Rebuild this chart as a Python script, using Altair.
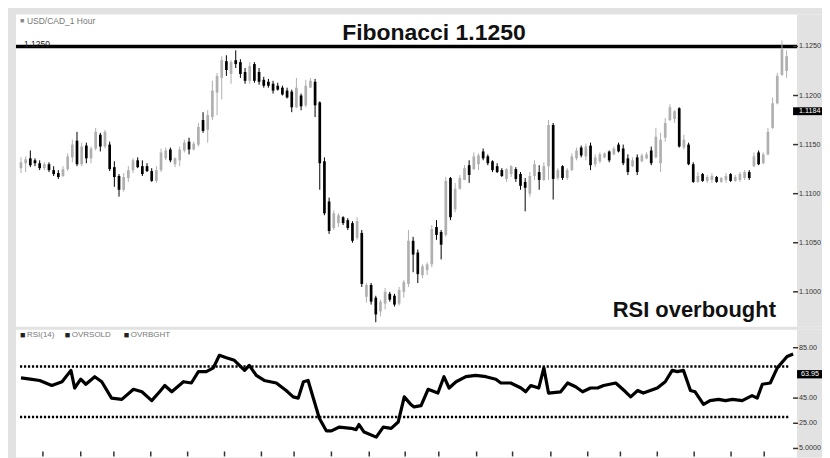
import altair as alt
import pandas as pd

# ---------------- data (prices in pips above 1.1000) ----------------
open_pips = [126,131,136,134,131,126,130,124,121,118,
             125,137,154,130,149,136,146,160,148,150,
             127,118,104,116,124,134,128,128,123,113,
             124,136,145,130,134,144,153,145,150,175,
             165,178,203,218,235,222,236,234,224,215,
             232,224,216,214,212,210,208,205,204,188,
             200,190,208,214,193,133,92,65,70,76,
             73,70,55,60,-5,7,-6,-20,-12,-2,
             -4,-12,0,8,52,40,17,22,28,66,
             61,58,116,84,105,114,129,125,130,143,
             138,133,128,124,115,120,125,120,112,100,
             118,122,114,128,170,116,128,116,124,136,
             147,138,149,130,133,137,143,140,150,146,
             136,128,137,133,136,144,137,131,157,175,
             176,187,147,150,130,112,120,113,114,117,
             112,114,120,113,114,116,122,128,142,131,
             140,167,192,221,225]
high_pips = [137,138,144,136,134,132,132,128,124,128,
             141,155,163,152,152,148,167,162,165,153,
             133,120,121,128,136,137,134,131,126,128,
             146,147,147,137,148,155,157,153,172,183,
             185,215,223,240,241,236,246,237,228,234,
             234,228,219,217,215,213,210,208,206,218,
             202,216,218,217,194,137,96,83,80,77,
             75,72,76,63,9,9,-4,-8,4,0,
             -2,5,12,63,56,43,28,30,68,73,
             63,117,117,111,119,129,134,142,141,146,
             140,134,131,126,126,129,127,122,116,122,
             134,129,132,175,172,126,129,126,141,147,
             149,151,152,140,142,142,144,148,152,150,
             140,137,140,141,142,148,167,162,177,191,
             185,188,160,152,132,122,121,119,121,118,
             117,121,121,119,122,124,124,142,144,142,
             167,198,223,256,246]
low_pips = [121,122,127,128,124,124,122,118,115,117,
            123,132,128,128,131,131,144,143,146,123,
            107,97,102,112,121,126,118,122,112,111,
            122,134,132,127,128,142,140,144,148,162,
            152,175,180,196,220,212,228,218,212,212,
            213,211,208,208,202,205,200,197,183,187,
            185,188,208,178,104,78,59,63,66,68,
            63,50,53,5,-11,-13,-31,-25,-18,-10,
            -15,-14,-6,5,20,9,14,17,25,53,
            33,56,73,81,104,114,111,124,124,134,
            129,122,121,117,112,117,112,104,82,97,
            114,104,113,114,94,114,114,114,123,134,
            137,134,124,127,131,136,132,139,142,129,
            119,127,119,132,135,129,136,122,153,174,
            172,147,145,129,111,111,112,111,111,111,
            111,111,112,112,112,114,114,127,129,130,
            139,166,191,220,218]
close_pips = [132,135,129,131,126,130,124,120,117,125,
              138,150,130,148,136,146,163,148,163,125,
              117,104,117,124,134,127,120,123,113,124,
              142,144,134,136,145,152,145,151,168,164,
              180,205,220,236,226,234,232,222,215,230,
              215,214,210,210,205,206,201,198,188,208,
              189,210,215,190,131,80,62,80,78,70,
              65,52,72,8,7,-10,-23,-10,0,-8,
              -13,2,10,52,38,18,26,28,64,58,
              48,113,76,105,116,126,119,138,139,136,
              131,124,122,118,125,128,115,108,106,118,
              130,114,128,170,115,124,116,124,138,144,
              139,148,129,137,140,141,134,146,143,131,
              122,134,122,139,140,131,158,155,172,188,
              184,148,155,130,112,118,113,117,118,112,
              116,118,113,117,120,122,116,138,130,140,
              163,192,220,247,240]

rsi_pos = [0, 2, 4, 6.6, 8.8, 10.7, 11.5, 12.8, 13.9, 15.8, 17.3, 19.4, 21.6, 24.1, 25.9,
           28.0, 29.7, 30.8, 32.3, 34.8, 36.5, 38.0, 39.7, 41.2, 42.5, 44.0, 45.7, 47.9, 48.9,
           50.4, 52.1, 54.7, 56.8, 58.3, 59.4, 60.5, 61.5, 63.9, 65.4, 66.5, 68.2, 70.7, 71.8,
           72.4, 73.5, 76.1, 77.6, 79.3, 80.8, 82.1, 83.5, 84.2, 85.7, 87.2, 89.3, 90.6, 91.7,
           93.2, 95.3, 97.4, 99.6, 101.7, 102.8, 104.9, 107.1, 108.1, 109.2, 110.9, 112.0, 113.0,
           115.6, 117.1, 118.8, 120.3, 122.0, 123.5, 124.8, 127.4, 129.5, 130.6, 132.1, 133.3,
           134.8, 136.3, 138.0, 139.5, 140.6, 141.9, 143.4, 144.4, 146.2, 147.6, 149.4, 150.9,
           152.4, 154.5, 156.6, 157.7, 158.8, 160.5, 162.0, 164.1, 165.4]
rsi_val = [61, 60, 59, 55, 58, 67, 53, 60, 56, 62, 58, 45, 44, 52, 50,
           43, 50, 55, 50, 58, 57, 66, 66, 69, 79, 77, 75, 67, 71,
           63, 59, 57, 51, 46, 45, 58, 59, 29, 19, 19, 22, 21, 20,
           24, 18, 14, 22, 21, 26, 46, 40, 38, 39, 52, 49, 62, 53,
           58, 62, 63, 62, 60, 57, 57, 53, 50, 55, 53, 69, 49,
           50, 57, 54, 50, 53, 53, 55, 57, 50, 46, 51, 49,
           51, 53, 58, 67, 66, 67, 51, 50, 40, 43, 44, 43,
           44, 43, 47, 45, 56, 57, 69, 78, 80]

time_tick_pos = [4.7, 12.8, 19.9, 27.8, 35.7, 43.6, 51.5, 58.5, 66.5, 74.6, 82.3,
                 89.5, 97.6, 105.3, 113.5, 121.4, 128.4, 136.3, 144.2, 152.1, 159.2]

price_ticks = [1.1000, 1.1050, 1.1100, 1.1150, 1.1200, 1.1250]
price_tick_labels = ["1.1000", "1.1050", "1.1100", "1.1150", "1.1200", "1.1250"]
rsi_ticks = [5, 25, 45, 85]
rsi_tick_labels = ["5.0000", "25.00", "45.00", "85.00"]
fib_level = 1.1250
last_price = 1.1184
last_price_label = "1.1184"
last_rsi = 63.95
last_rsi_label = "63.95"
overbought = 70
oversold = 30
legend_items = ["RSI(14)", "OVRSOLD", "OVRBGHT"]

# ---------------- tables ----------------
BASE = 1.1
candles = pd.DataFrame({
    "i": list(range(len(open_pips))),
    "open": [BASE + v / 10000 for v in open_pips],
    "high": [BASE + v / 10000 for v in high_pips],
    "low": [BASE + v / 10000 for v in low_pips],
    "close": [BASE + v / 10000 for v in close_pips],
    "dir": ["up" if c >= o else "down" for o, c in zip(open_pips, close_pips)],
})
rsi_df = pd.DataFrame({"pos": rsi_pos, "rsi": rsi_val})

PW = 808          # panel width (white plot 783 + grey label strip)
PLOT_R = 783      # right edge of the white plot
H_PRICE = 313
H_RSI = 128
FONT = "Liberation Sans"
GREY = "#e2e2e2"
LAB_SIZE = 7.2

xs = alt.Scale(domain=[-1.07, 171.58], nice=False, zero=False)
ys = alt.Scale(domain=[1.09644, 1.12825], nice=False, zero=False)
rs = alt.Scale(domain=[-2.13, 99.26], nice=False, zero=False)
cs = alt.Scale(domain=["up", "down"], range=["#b0b0b0", "#000000"])

def strip(h):
    return alt.Chart(pd.DataFrame({"k": [0]})).mark_rect(color=GREY).encode(
        x=alt.value(PLOT_R), x2=alt.value(PW), y=alt.value(0), y2=alt.value(h))

def tick_marks(df, field, scale):
    return alt.Chart(df).mark_rule(color="#333333", strokeWidth=1.5).encode(
        x=alt.value(PLOT_R - 4), x2=alt.value(PLOT_R + 1),
        y=alt.Y(f"{field}:Q", scale=scale, axis=None))

def tick_labels(df, field, scale):
    return alt.Chart(df).mark_text(font=FONT, fontSize=LAB_SIZE, align="left", baseline="middle",
                                   color="#333333", clip=True).encode(
        x=alt.value(PLOT_R + 2), y=alt.Y(f"{field}:Q", scale=scale, axis=None),
        text="lab:N")

# ---------------- price panel ----------------
base = alt.Chart(candles)
wicks = base.mark_rule(strokeWidth=1).encode(
    x=alt.X("i:Q", scale=xs, axis=None),
    y=alt.Y("low:Q", scale=ys, axis=None),
    y2="high:Q",
    color=alt.Color("dir:N", scale=cs, legend=None),
)
bodies = base.mark_rule(strokeWidth=2.7).encode(
    x=alt.X("i:Q", scale=xs, axis=None),
    y=alt.Y("open:Q", scale=ys, axis=None),
    y2="close:Q",
    color=alt.Color("dir:N", scale=cs, legend=None),
)
fib_line = alt.Chart(pd.DataFrame({"level": [fib_level]})).mark_rule(
    color="black", strokeWidth=3.5).encode(
    x=alt.value(0), x2=alt.value(PLOT_R), y=alt.Y("level:Q", scale=ys, axis=None))

fib_title = alt.Chart(pd.DataFrame({"t": ["Fibonacci 1.1250"]})).mark_text(
    font=FONT, fontSize=23, fontWeight="bold", align="center", baseline="alphabetic",
    color="#111111").encode(x=alt.value(419), y=alt.value(26), text="t:N")
rsi_note = alt.Chart(pd.DataFrame({"t": ["RSI overbought"]})).mark_text(
    font=FONT, fontSize=22, fontWeight="bold", align="center", baseline="alphabetic",
    color="#111111").encode(x=alt.value(680), y=alt.value(303), text="t:N")
sym_icon = alt.Chart(pd.DataFrame({"t": ["■"]})).mark_text(
    fontSize=7, align="left", baseline="middle", color="#8a8a8a").encode(
    x=alt.value(4), y=alt.value(6), text="t:N")
sym_label = alt.Chart(pd.DataFrame({"t": ["USD/CAD_1 Hour"]})).mark_text(
    font=FONT, fontSize=8.5, align="left", baseline="middle", color="#777777").encode(
    x=alt.value(11), y=alt.value(6), text="t:N")
fib_small = alt.Chart(pd.DataFrame({"t": ["1.1250"]})).mark_text(
    font=FONT, fontSize=8.5, align="left", baseline="alphabetic", color="#222222").encode(
    x=alt.value(8), y=alt.value(33), text="t:N")

pt_df = pd.DataFrame({"v": price_ticks, "lab": price_tick_labels})
last_box = alt.Chart(pd.DataFrame({"a": [last_price + 0.0004], "b": [last_price - 0.0004]})).mark_rect(
    color="black").encode(x=alt.value(PLOT_R - 4), x2=alt.value(PW),
                          y=alt.Y("a:Q", scale=ys, axis=None), y2="b:Q")
last_text = alt.Chart(pd.DataFrame({"v": [last_price], "lab": [last_price_label]})).mark_text(
    font=FONT, fontSize=LAB_SIZE, align="left", baseline="middle", color="white", clip=True).encode(
    x=alt.value(PLOT_R + 2), y=alt.Y("v:Q", scale=ys, axis=None), text="lab:N")

price = alt.layer(strip(H_PRICE), fib_line, wicks, bodies, fib_title, rsi_note, sym_icon,
                  sym_label, fib_small, tick_marks(pt_df, "v", ys), tick_labels(pt_df, "v", ys),
                  last_box, last_text).properties(width=PW, height=H_PRICE)

# ---------------- RSI panel ----------------
levels = alt.Chart(pd.DataFrame({"level": [oversold, overbought]})).mark_rule(
    color="black", strokeWidth=2.5, strokeDash=[2.2, 1.8]).encode(
    x=alt.value(4), x2=alt.value(PLOT_R - 7),
    y=alt.Y("level:Q", scale=rs, axis=None))
rsi_line = alt.Chart(rsi_df).mark_line(color="black", strokeWidth=3.2, strokeJoin="round").encode(
    x=alt.X("pos:Q", scale=xs, axis=None),
    y=alt.Y("rsi:Q", scale=rs, axis=None),
)
tick_df = pd.DataFrame({"pos": time_tick_pos, "a": [2.6] * len(time_tick_pos),
                        "b": [-1.3] * len(time_tick_pos)})
time_ticks = alt.Chart(tick_df).mark_rule(color="#333333", strokeWidth=1.5).encode(
    x=alt.X("pos:Q", scale=xs, axis=None), y=alt.Y("a:Q", scale=rs, axis=None), y2="b:Q")

rt_df = pd.DataFrame({"v": rsi_ticks, "lab": rsi_tick_labels})
rsi_box = alt.Chart(pd.DataFrame({"a": [last_rsi + 3.3], "b": [last_rsi - 3.3]})).mark_rect(
    color="black").encode(x=alt.value(PLOT_R), x2=alt.value(PW),
                          y=alt.Y("a:Q", scale=rs, axis=None), y2="b:Q")
rsi_text = alt.Chart(pd.DataFrame({"v": [last_rsi], "lab": [last_rsi_label]})).mark_text(
    font=FONT, fontSize=LAB_SIZE, align="left", baseline="middle", color="white", clip=True).encode(
    x=alt.value(PLOT_R + 4), y=alt.Y("v:Q", scale=rs, axis=None), text="lab:N")

leg_df = pd.DataFrame({"t": legend_items, "sx": [4, 49, 108], "tx": [11, 56, 115]})
leg_sq = alt.Chart(leg_df).mark_text(fontSize=9, align="left", baseline="middle",
                                     color="#222222", text="■").encode(
    x=alt.X("sx:Q", scale=None), y=alt.value(5))
leg_tx = alt.Chart(leg_df).mark_text(font=FONT, fontSize=8, align="left", baseline="middle",
                                     color="#777777").encode(
    x=alt.X("tx:Q", scale=None), y=alt.value(5), text="t:N")

rsi = alt.layer(strip(H_RSI), levels, rsi_line, time_ticks, tick_marks(rt_df, "v", rs),
                tick_labels(rt_df, "v", rs), rsi_box, rsi_text, leg_sq, leg_tx).properties(
    width=PW, height=H_RSI).resolve_scale(x="independent")

chart = alt.vconcat(price, rsi, spacing=3).resolve_scale(y="independent").properties(
    background=GREY,
    padding={"left": 6, "top": 6, "right": 0, "bottom": 0},
).configure_view(stroke=None, fill="white")

chart.save("out.html", embed_options={"renderer": "svg", "actions": False})
